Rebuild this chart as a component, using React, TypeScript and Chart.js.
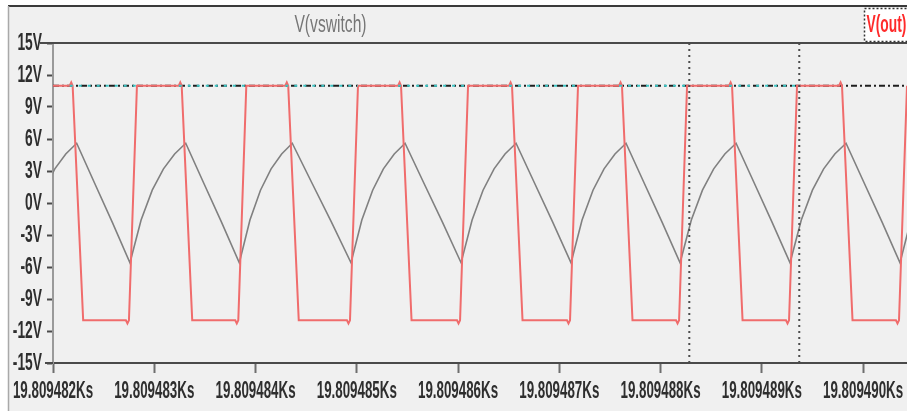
import React, { useEffect, useRef } from 'react';
import { Chart, registerables } from 'chart.js';

Chart.register(...registerables);

// Time axis in ms after 19.809482 Ks
const X_TICKS = [0, 1, 2, 3, 4, 5, 6, 7, 8];
const X_TICK_LABELS = [
  '19.809482Ks', '19.809483Ks', '19.809484Ks', '19.809485Ks', '19.809486Ks',
  '19.809487Ks', '19.809488Ks', '19.809489Ks', '19.809490Ks',
];
const X_MIN = 0;
const X_MAX = 8.434;

const Y_TICKS = [15, 12, 9, 6, 3, 0, -3, -6, -9, -12, -15];
const Y_TICK_LABELS = ['15V', '12V', '9V', '6V', '3V', '0V', '-3V', '-6V', '-9V', '-12V', '-15V'];

const TRACE_NAMES = ['V(vswitch)', 'V(out)'];

// V(vswitch): [time ms, volts]
const VSWITCH: [number, number][] = [
  [-0.305, -5.6], [-0.197, -1.6], [-0.089, 1.2], [0.018, 3.2], [0.126, 4.6],
  [0.234, 5.6], [0.409, 1.9], [0.585, -1.8],
  [0.760, -5.6], [0.870, -1.6], [0.980, 1.2], [1.091, 3.2], [1.201, 4.6],
  [1.311, 5.6], [1.487, 1.9], [1.664, -1.8],
  [1.840, -5.6], [1.945, -1.6], [2.049, 1.2], [2.154, 3.2], [2.258, 4.6],
  [2.363, 5.6], [2.556, 1.9], [2.750, -1.8],
  [2.943, -5.6], [3.050, -1.6], [3.157, 1.2], [3.263, 3.2], [3.370, 4.6],
  [3.477, 5.6], [3.661, 1.9], [3.846, -1.8],
  [4.030, -5.6], [4.139, -1.6], [4.247, 1.2], [4.356, 3.2], [4.464, 4.6],
  [4.573, 5.6], [4.754, 1.9], [4.935, -1.8],
  [5.116, -5.6], [5.225, -1.6], [5.333, 1.2], [5.442, 3.2], [5.550, 4.6],
  [5.659, 5.6], [5.837, 1.9], [6.015, -1.8],
  [6.193, -5.6], [6.304, -1.6], [6.414, 1.2], [6.525, 3.2], [6.635, 4.6],
  [6.746, 5.6], [6.924, 1.9], [7.101, -1.8],
  [7.279, -5.6], [7.390, -1.6], [7.500, 1.2], [7.611, 3.2], [7.721, 4.6],
  [7.832, 5.6], [8.010, 1.9], [8.188, -1.8],
  [8.365, -5.6], [8.472, -1.6], [8.579, 1.2],
];

// V(out): [time ms, volts]
const VOUT: [number, number][] = [
  [0, 11],
  [0.165, 11], [0.180, 11.3], [0.194, 11], [0.298, -11], [0.720, -11], [0.735, -11.3], [0.750, -11], [0.829, 11],
  [1.242, 11], [1.257, 11.3], [1.271, 11], [1.375, -11], [1.800, -11], [1.815, -11.3], [1.830, -11], [1.909, 11],
  [2.294, 11], [2.309, 11.3], [2.323, 11], [2.427, -11], [2.903, -11], [2.918, -11.3], [2.933, -11], [3.012, 11],
  [3.408, 11], [3.423, 11.3], [3.437, 11], [3.541, -11], [3.990, -11], [4.005, -11.3], [4.020, -11], [4.099, 11],
  [4.504, 11], [4.519, 11.3], [4.533, 11], [4.637, -11], [5.076, -11], [5.091, -11.3], [5.106, -11], [5.185, 11],
  [5.590, 11], [5.605, 11.3], [5.619, 11], [5.723, -11], [6.153, -11], [6.168, -11.3], [6.183, -11], [6.262, 11],
  [6.677, 11], [6.692, 11.3], [6.706, 11], [6.810, -11], [7.239, -11], [7.254, -11.3], [7.269, -11], [7.348, 11],
  [7.763, 11], [7.778, 11.3], [7.792, 11], [7.896, -11], [8.325, -11], [8.340, -11.3], [8.355, -11], [8.434, 11],
];

const HIGH_LEVEL = 11;
const CURSORS = [6.284, 7.37];

const toPoints = (arr: [number, number][]) => arr.map(([x, y]) => ({ x, y }));

// flat segments of V(out) sitting on the high rail
const highSegments = () => {
  const pts: { x: number; y: number | null }[] = [];
  for (let i = 0; i < VOUT.length - 1; i++) {
    const [t0, v0] = VOUT[i];
    const [t1, v1] = VOUT[i + 1];
    if (v0 === HIGH_LEVEL && v1 === HIGH_LEVEL) {
      pts.push({ x: t0, y: v0 }, { x: t1, y: v1 }, { x: (t1 + t0) / 2, y: null });
    }
  }
  return pts.sort((a, b) => a.x - b.x);
};

const LABEL_FONT = 'bold 23px "Liberation Sans", Arial, sans-serif';

const squished = (ctx: CanvasRenderingContext2D, text: string, x: number, y: number, sx: number) => {
  ctx.save();
  ctx.translate(x, y);
  ctx.scale(sx, 1);
  ctx.fillText(text, 0, 0);
  ctx.restore();
};

const framePlugin = {
  id: 'scopeFrame',
  beforeDraw(chart: any) {
    const { ctx, width, height } = chart;
    ctx.save();
    ctx.fillStyle = '#ffffff';
    ctx.fillRect(0, 0, width, height);
    ctx.fillStyle = '#f0f0f0';
    ctx.fillRect(8, 6, width - 8, height - 6);
    ctx.strokeStyle = '#3a3a3a';
    ctx.lineWidth = 2;
    ctx.beginPath();
    ctx.moveTo(8, 6);
    ctx.lineTo(width, 6);
    ctx.stroke();
    ctx.strokeStyle = '#a9a9a9';
    ctx.lineWidth = 1.5;
    ctx.beginPath();
    ctx.moveTo(8.5, 6);
    ctx.lineTo(8.5, height);
    ctx.stroke();
    ctx.restore();
  },
  afterDraw(chart: any) {
    const { ctx, width, chartArea } = chart;
    const xs = chart.scales.x;
    const ys = chart.scales.y;
    ctx.save();

    // header separator / top of plot
    ctx.strokeStyle = '#4a4a4a';
    ctx.lineWidth = 2;
    ctx.beginPath();
    ctx.moveTo(chartArea.left - 13, chartArea.top);
    ctx.lineTo(width, chartArea.top);
    ctx.stroke();
    ctx.beginPath();
    ctx.moveTo(chartArea.left - 8, chartArea.bottom);
    ctx.lineTo(chartArea.left, chartArea.bottom);
    ctx.stroke();

    // y tick labels
    ctx.font = LABEL_FONT;
    ctx.fillStyle = '#2e2e2e';
    ctx.textAlign = 'right';
    ctx.textBaseline = 'middle';
    Y_TICKS.forEach((v, i) => {
      squished(ctx, Y_TICK_LABELS[i], chartArea.left - 11, ys.getPixelForValue(v) + 1, 0.6);
    });

    // x tick labels
    ctx.textAlign = 'center';
    ctx.textBaseline = 'alphabetic';
    X_TICKS.forEach((v, i) => {
      squished(ctx, X_TICK_LABELS[i], xs.getPixelForValue(v), 398, 0.58);
    });

    // trace names in the header
    ctx.font = '23px "Liberation Sans", Arial, sans-serif';
    ctx.fillStyle = '#767676';
    ctx.textAlign = 'center';
    squished(ctx, TRACE_NAMES[0], 330.5, 32, 0.68);

    ctx.fillStyle = '#ffffff';
    ctx.fillRect(864, 8, width - 864, 34);
    ctx.strokeStyle = '#333333';
    ctx.lineWidth = 1.5;
    ctx.setLineDash([2, 2]);
    ctx.strokeRect(864.5, 8.5, width - 864 + 4, 33);
    ctx.setLineDash([]);
    ctx.font = LABEL_FONT;
    ctx.fillStyle = '#ff2a2a';
    ctx.textAlign = 'left';
    squished(ctx, TRACE_NAMES[1], 866.5, 32, 0.6);

    ctx.restore();
  },
};

export default function App() {
  const ref = useRef<HTMLCanvasElement | null>(null);

  useEffect(() => {
    if (!ref.current) return;
    const chart = new Chart(ref.current, {
      type: 'line',
      data: {
        datasets: [
          ...CURSORS.map((c) => ({
            label: 'cursor',
            data: [{ x: c, y: -15 }, { x: c, y: 15 }],
            borderColor: '#4d4d4d',
            borderWidth: 2,
            borderDash: [2, 4],
            pointRadius: 0,
            order: 0,
          })),
          {
            label: 'V(out) high',
            data: highSegments(),
            borderColor: '#3cc4c4',
            borderWidth: 2,
            borderDash: [3, 6],
            pointRadius: 0,
            spanGaps: false,
            order: 1,
          },
          {
            label: TRACE_NAMES[1],
            data: toPoints(VOUT),
            borderColor: '#f06c6c',
            borderWidth: 2,
            pointRadius: 0,
            order: 2,
          },
          {
            label: TRACE_NAMES[0],
            data: toPoints(VSWITCH),
            borderColor: '#808080',
            borderWidth: 1.6,
            pointRadius: 0,
            order: 3,
          },
          {
            label: 'level',
            data: [{ x: X_MIN, y: HIGH_LEVEL }, { x: X_MAX, y: HIGH_LEVEL }],
            borderColor: '#1e1e1e',
            borderWidth: 2,
            borderDash: [6, 3, 2, 3],
            pointRadius: 0,
            order: 4,
          },
        ],
      },
      options: {
        animation: false,
        responsive: false,
        events: [],
        layout: { padding: { top: 43, left: 0, right: 0, bottom: 0 } },
        elements: { line: { tension: 0 } },
        plugins: { legend: { display: false }, tooltip: { enabled: false } },
        scales: {
          x: {
            type: 'linear',
            min: X_MIN,
            max: X_MAX,
            afterBuildTicks: (s: any) => {
              s.ticks = X_TICKS.map((value) => ({ value }));
            },
            afterFit: (s: any) => {
              s.height = 48;
              s.paddingLeft = 0;
              s.paddingRight = 0;
            },
            ticks: { display: false },
            grid: { drawOnChartArea: false, drawTicks: true, tickLength: 10, tickColor: '#6e6e6e', tickWidth: 2 },
            border: { display: true, color: '#4a4a4a', width: 2 },
          },
          y: {
            type: 'linear',
            min: -15,
            max: 15,
            afterBuildTicks: (s: any) => {
              s.ticks = Y_TICKS.map((value) => ({ value }));
            },
            afterFit: (s: any) => {
              s.width = 53;
              s.paddingTop = 0;
              s.paddingBottom = 0;
            },
            ticks: { display: false },
            grid: { drawOnChartArea: false, drawTicks: true, tickLength: 6, tickColor: '#4a4a4a', tickWidth: 2 },
            border: { display: true, color: '#9a9a9a', width: 2 },
          },
        },
      },
      plugins: [framePlugin],
    });
    return () => chart.destroy();
  }, []);

  return (
    <div style={{ position: 'fixed', left: 0, top: 0, width: 907, height: 411 }}>
      <canvas ref={ref} width={907} height={411} style={{ display: 'block', width: 907, height: 411 }} />
    </div>
  );
}
